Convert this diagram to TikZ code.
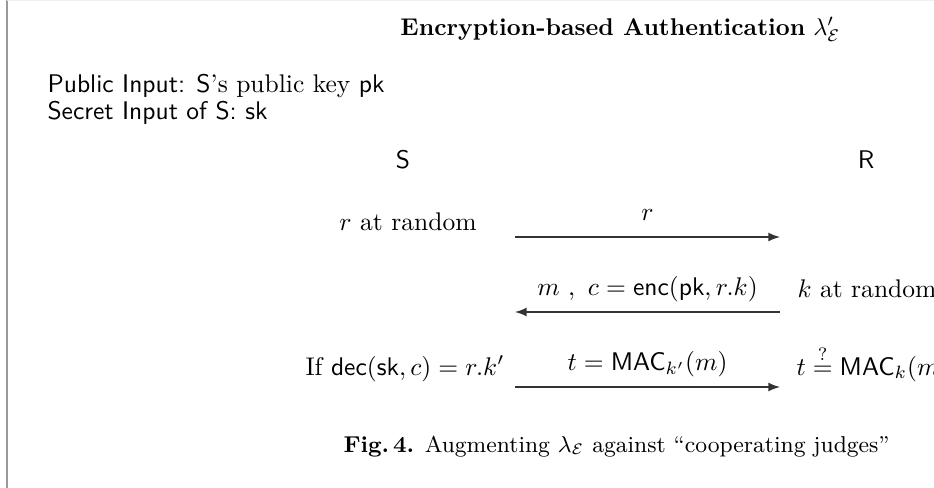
\documentclass[tikz,border=0pt]{standalone}
\usepackage{amsmath}
\usetikzlibrary{arrows}

\newcommand{\pkey}{\mathsf{pk}}
\newcommand{\skey}{\mathsf{sk}}
\newcommand{\encf}{\mathsf{enc}}
\newcommand{\decf}{\mathsf{dec}}
\newcommand{\macf}{\mathsf{MAC}}

\tikzset{
  msg/.style={-latex, line width=0.6pt, draw=black!80},
  msg label/.style={anchor=base, inner sep=0pt, yshift=6.3pt},
  party/.style={font=\sffamily, anchor=base, inner sep=0pt},
  step text/.style={anchor=base, inner sep=0pt},
}

\begin{document}
\begin{tikzpicture}[x=0.392pt, y=-0.392pt]
  \useasboundingbox (0,0) rectangle (934,488);
  % frame
  \draw[gray!80, line width=0.8pt] (7,0) -- (7,488);
  \draw[gray!12, line width=0.6pt] (7,0.6) -- (934,0.6);
  % heading and inputs
  \node[anchor=base west, inner sep=0pt, scale=0.95] (title) at (400,35)
    {\textbf{Encryption-based Authentication} $\lambda'_{\mathcal{E}}$};
  \node[anchor=base west, inner sep=0pt] (pub) at (47,92)
    {\textsf{Public Input: S}'s public key \textsf{pk}};
  \node[anchor=base west, inner sep=0pt] (sec) at (47,119)
    {\textsf{Secret Input of S: sk}};
  % the two parties
  \node[party] (S) at (403,168) {S};
  \node[party] (R) at (866,168) {R};
  % message ends
  \coordinate (s1) at (515,237);
  \coordinate (r1) at (780,237);
  \coordinate (s2) at (515,312);
  \coordinate (r2) at (780,312);
  \coordinate (s3) at (515,387);
  \coordinate (r3) at (780,387);
  % round 1
  \node[step text] (rrand) at (408,230) {$r$ at random};
  \draw[msg] (s1) -- node[msg label] (m1) {$r$} (r1);
  % round 2
  \node[step text, anchor=base west] (krand) at (797,297) {$k$ at random};
  \draw[msg] (r2) -- node[msg label] (m2) {$m\ ,\ c=\encf(\pkey,r.k)$} (s2);
  % round 3
  \node[step text, anchor=base east] (check) at (505,375) {If $\decf(\skey,c)=r.k'$};
  \draw[msg] (s3) -- node[msg label] (m3) {$t=\macf_{k'}(m)$} (r3);
  \node[step text, anchor=base west] (verify) at (796,375) {$t\stackrel{?}{=}\macf_{k}(m)$};
  % caption
  \node[anchor=base west, inner sep=0pt, font=\small] (cap) at (343,452)
    {\textbf{Fig.\,4.} Augmenting $\lambda_{\mathcal{E}}$ against ``cooperating judges''};
\end{tikzpicture}
\end{document}
